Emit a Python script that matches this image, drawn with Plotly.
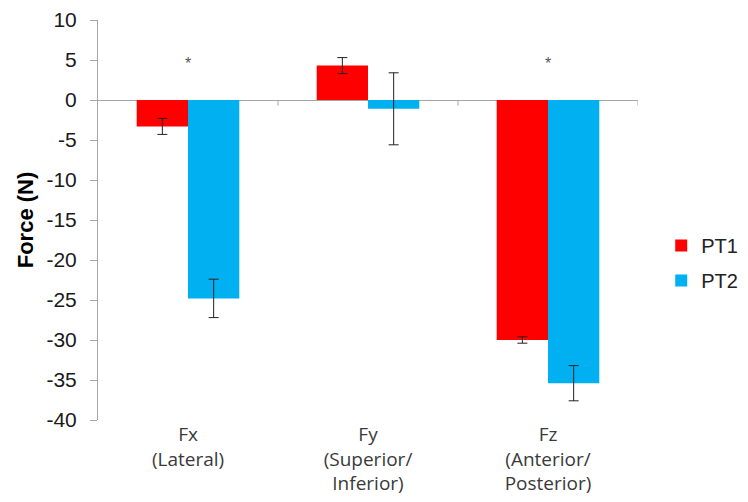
import plotly.graph_objects as go

categories = ["Fx<br>(Lateral)", "Fy<br>(Superior/<br>Inferior)", "Fz<br>(Anterior/<br>Posterior)"]
cat_pos = [0, 1, 2]
pt1_values = [-3.3, 4.3, -30.0]
pt1_errors = [1.0, 1.0, 0.4]
pt2_values = [-24.8, -1.1, -35.4]
pt2_errors = [2.4, 4.5, 2.2]
series_names = ["PT1", "PT2"]
series_colors = ["#FF0000", "#00B0F0"]
sig_categories = [0, 2]
sig_level = 4.6
y_ticks = [10, 5, 0, -5, -10, -15, -20, -25, -30, -35, -40]
y_tick_text = [str(v) for v in y_ticks]

fig = go.Figure()
for name, vals, errs, col in zip(series_names, [pt1_values, pt2_values],
                                 [pt1_errors, pt2_errors], series_colors):
    fig.add_trace(go.Bar(
        x=cat_pos, y=vals, name=name, legendgroup=name,
        marker=dict(color=col, line=dict(width=0)),
        error_y=dict(type="data", array=errs, visible=True,
                     color="#222222", thickness=1, width=5),
    ))

for c in sig_categories:
    fig.add_annotation(x=c, y=sig_level, text="*", showarrow=False,
                       font=dict(family="Liberation Sans, Arial", size=16, color="#555555"))

# boundary ticks hanging from the zero line
for b in [0.5, 1.5, 2.5]:
    fig.add_shape(type="line", x0=b, x1=b, y0=0, y1=-0.7,
                  line=dict(color="#A6A6A6", width=1), layer="above")

fig.update_layout(
    width=748, height=502,
    margin=dict(l=98, r=110, t=20, b=82, autoexpand=False),
    paper_bgcolor="white", plot_bgcolor="white",
    barmode="group", bargap=0.43, bargroupgap=0,
    showlegend=True,
    legend=dict(x=1.043, y=0.485, xanchor="left", yanchor="top",
                font=dict(family="Liberation Sans, Arial", size=20, color="#222222"),
                tracegroupgap=6, traceorder="grouped", bgcolor="rgba(0,0,0,0)"),
    xaxis=dict(range=[-0.5, 2.5], tickvals=cat_pos, ticktext=categories,
               showline=False, showgrid=False, zeroline=False, ticks="",
               ticklabelstandoff=1,
               tickfont=dict(family="Open Sans", size=19, color="#3A3A3A")),
    yaxis=dict(range=[-40, 10], tickvals=y_ticks, ticktext=y_tick_text, showgrid=False,
               showline=True, linecolor="#A6A6A6", linewidth=1,
               ticks="outside", ticklen=7, tickcolor="#A6A6A6",
               ticklabelstandoff=9,
               zeroline=True, zerolinecolor="#A6A6A6", zerolinewidth=1,
               tickfont=dict(family="Liberation Sans, Arial", size=21, color="#1A1A1A"),
               title=dict(text="<b>Force (N)</b>", standoff=6,
                          font=dict(family="Liberation Sans, Arial", size=22, color="#000000"))),
)

fig.write_html("out.html")
